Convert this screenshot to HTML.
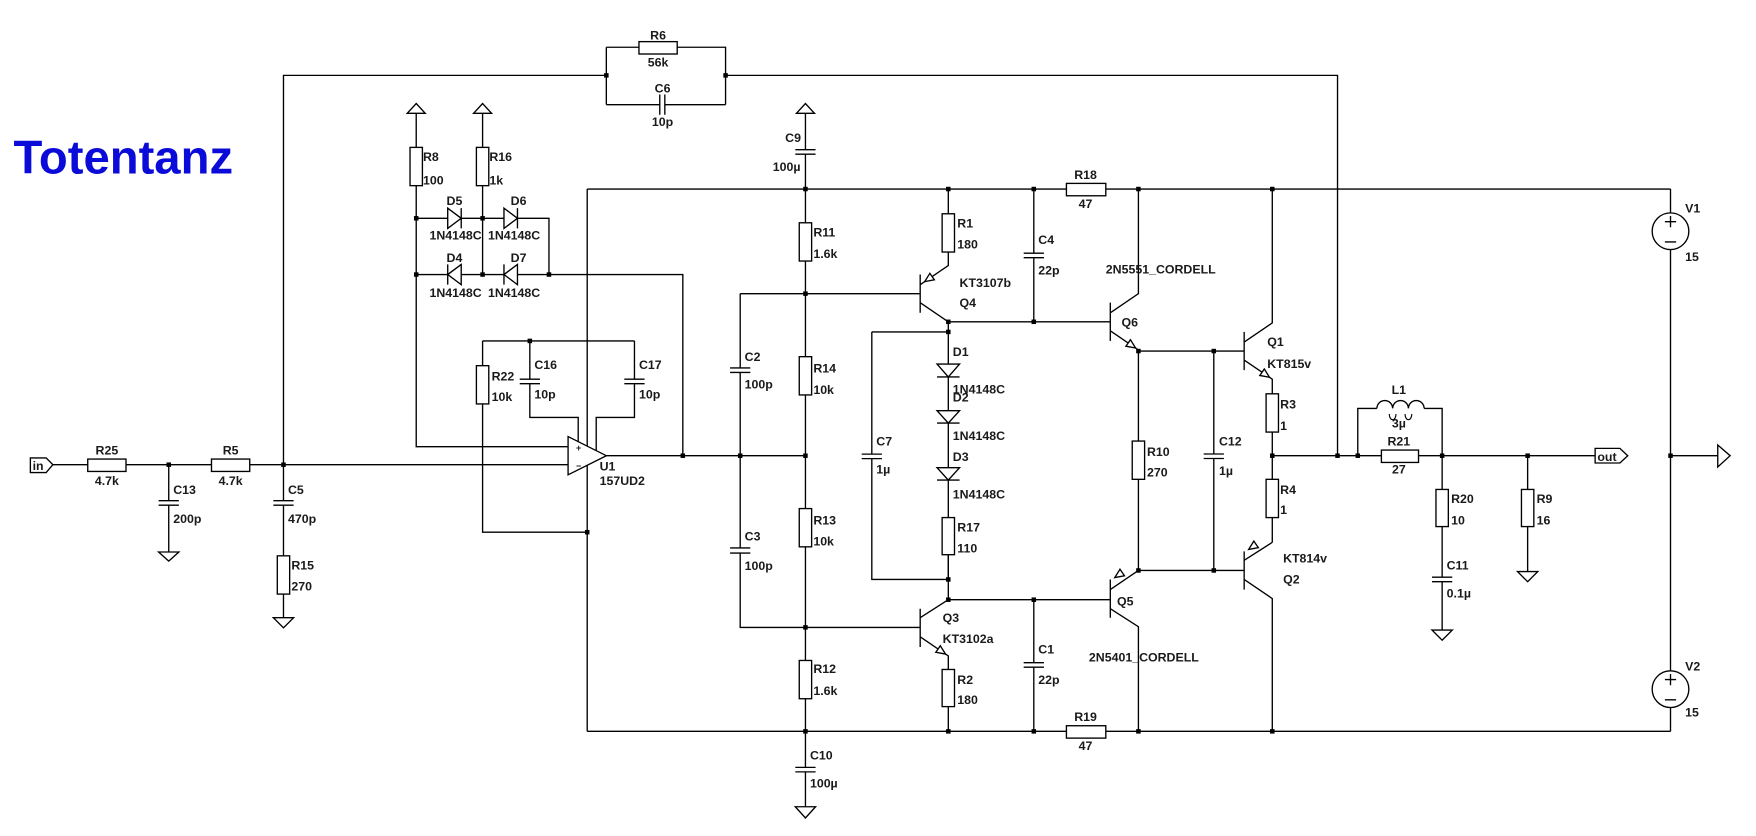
<!DOCTYPE html>
<html><head><meta charset="utf-8"><style>
html,body{margin:0;padding:0;background:#fff;}
svg{display:block}
text{font-family:"Liberation Sans",Arial,sans-serif;font-size:11px;font-weight:bold;fill:#1a1a1a}
.c{text-anchor:middle}
</style></head><body>
<svg width="1756" height="836" viewBox="0 0 1561 743" preserveAspectRatio="none" xmlns="http://www.w3.org/2000/svg">
<rect width="1561" height="743" fill="#fff"/>
<g stroke="#000" stroke-width="1.2" fill="none">
<path d="M252,413 V67 H539 M539,42 V93 M539,42 H568 M602,42 H645 V93 M539,93 H586.5 M591,93 H645 M645,67 H1189 V405"/>
<path d="M586.5,84 V102 M591,84 V102"/>
<path d="M47,413 H78 M112,413 H188 M222,413 H505"/>
<path d="M150,413 V445 M141,445 H159 M141,449 H159 M150,449 V490.6 M141,490.6 H159 L150,498.7 Z"/>
<path d="M252,413 V445 M243,445 H261 M243,449 H261 M252,449 V494 M252,528 V549 M243,549 H261 L252,558 Z"/>
<path d="M362,100.7 L370,92 L378,100.7 Z M370,100.7 V131 M370,165 V397 H505"/>
<path d="M421,100.7 L429,92 L437,100.7 Z M429,100.7 V131 M429,165 V244"/>
<path d="M370,194 H488 V244 M370,244 H607 V405"/>
<path d="M429,303 H564 M429,325 V303 M429,359 V473 H522"/>
<path d="M471,303 V337 M462,337 H480 M462,341 H480 M471,341 V371 H514 V393"/>
<path d="M564,303 V337 M555,337 H573 M555,341 H573 M564,341 V371 H530 V401"/>
<path d="M522,168 V650"/>
<path d="M522,168 H1485 M522,650 H1485"/>
<path d="M708,100.7 L716,92 L724,100.7 Z M716,100.7 V133 M707,133 H725 M707,137 H725 M716,137 V682 M707,682 H725 M707,686 H725 M716,686 V717 M707,717 H725 L716,727 Z"/>
<path d="M658,261 H818 M658,261 V327 M649,327 H667 M649,331 H667 M658,331 V487 M649,487 H667 M649,491.5 H667 M658,491.5 V557.6 H818 M607,405 H716"/>
<path d="M818,244 V278 M818,253 L843,236 V224 M843,190 V168 M818,269 L843,286 V515"/>
<path d="M843,286 H987 M775,295 H843 M775,295 V403.6 M766,403.6 H784 M766,407.6 H784 M775,407.6 V515 H843 M843,493 V533"/>
<path d="M818,541 V575 M818,549 L843,533 M818,566 L843,583 V595 M843,628 V650 M843,533 H987"/>
<path d="M919,168 V225 M910,225 H928 M910,229 H928 M919,229 V286 M919,533 V589 M910,589 H928 M910,593 H928 M919,593 V650"/>
<path d="M987,269 V303 M987,278 L1012,261 V168 M987,294 L1012,311 V392 M1012,426 V507 M987,515 V549 M987,524 L1012,507 M987,541 L1012,557 V650"/>
<path d="M1012,312 H1106 M1012,507 H1106 M1079,312 V403.5 M1070,403.5 H1088 M1070,407.5 H1088 M1079,407.5 V507"/>
<path d="M1106,295 V329 M1106,304 L1131,287 V168 M1106,320 L1131,337 V350 M1131,384 V426 M1131,460 V482 M1106,490 V524 M1106,498 L1131,482 M1106,515 L1131,532 V650"/>
<path d="M1131,405 H1228 M1261,405 H1418 M1207,405 V363 H1224 M1266,363 H1282 V435 M1282,468 V513 M1273,513 H1291 M1273,517 H1291 M1282,517 V560 M1273,560 H1291 L1282,569 Z"/>
<path d="M1224,363 a7,7 0 0 1 14,0 a7,7 0 0 1 14,0 a7,7 0 0 1 14,0"/>
<path d="M1235,368 a3,5 0 1 0 6,0 M1249,368 a3,5 0 1 0 6,0" stroke-width="1"/>
<path d="M1358,405 V435 M1358,468 V508 M1349,508 H1367 L1358,517 Z"/>
<path d="M1418,398.5 H1440 L1447,405 L1440,411.5 H1418 Z"/>
<path d="M1485,168 V189 M1485,222 V596 M1485,629 V650 M1485,405 H1527 M1527,395.5 L1538,405 L1527,415 Z"/>
<circle cx="1485" cy="205.5" r="16.3"/><circle cx="1485" cy="612.5" r="16.3"/>
<path d="M1480,197 H1490 M1485,192 V202 M1480,215 H1490 M1480,604 H1490 M1485,599 V609 M1480,622 H1490"/>
<path d="M27,407 H41 L47,413 L41,420 H27 Z"/>
</g>
<g stroke="#000" stroke-width="1.2" fill="#fff">
<rect x="78" y="408" width="34" height="11"/>
<rect x="188" y="408" width="34" height="11"/>
<rect x="568" y="37" width="34" height="11"/>
<rect x="948" y="163" width="35" height="11"/>
<rect x="948" y="645" width="35" height="11"/>
<rect x="1228" y="400" width="33" height="11"/>
<rect x="246.5" y="494" width="11" height="34"/>
<rect x="364.5" y="131" width="11" height="34"/>
<rect x="423.5" y="131" width="11" height="34"/>
<rect x="423.5" y="325" width="11" height="34"/>
<rect x="710.5" y="198" width="11" height="34"/>
<rect x="710.5" y="317" width="11" height="34"/>
<rect x="710.5" y="452" width="11" height="34"/>
<rect x="710.5" y="587" width="11" height="34"/>
<rect x="837.5" y="190" width="11" height="34"/>
<rect x="837.5" y="460" width="11" height="33"/>
<rect x="837.5" y="595" width="11" height="33"/>
<rect x="1006.5" y="392" width="11" height="34"/>
<rect x="1125.5" y="350" width="11" height="34"/>
<rect x="1125.5" y="426" width="11" height="34"/>
<rect x="1276.5" y="435" width="11" height="33"/>
<rect x="1352.5" y="435" width="11" height="33"/>
<path d="M398,185 L410,194 L398,203 Z M410,185 V203"/>
<path d="M448,185 L460,194 L448,203 Z M460,185 V203"/>
<path d="M410,235 L398,244 L410,253 Z M398,235 V253"/>
<path d="M460,235 L448,244 L460,253 Z M448,235 V253"/>
<path d="M833,323.6 H853 L843,335 Z M833,335 H853"/>
<path d="M833,365 H853 L843,376 Z M833,376 H853"/>
<path d="M833,415.7 H853 L843,426.7 Z M833,426.7 H853"/>
<path d="M505,388 L539,405 L505,422 Z"/>
<path d="M1009.5,309.3 L1000.9,307.7 L1004.9,301.9 Z"/>
<path d="M840.5,581.3 L831.9,579.7 L835.9,573.9 Z"/>
<path d="M1128.5,335.3 L1119.9,333.7 L1123.9,327.9 Z"/>
<path d="M822,250.3 L830.6,248.7 L826.6,242.9 Z"/>
<path d="M991,513.3 L999.6,511.7 L995.6,505.9 Z"/>
<path d="M1110,488.3 L1118.6,486.7 L1114.6,480.9 Z"/>
</g>
<path d="M539,405 H607" stroke="#000" stroke-width="1.2"/>
<g fill="#000">
<rect x="148" y="411" width="4" height="4"/><rect x="250" y="411" width="4" height="4"/>
<rect x="537" y="65" width="4" height="4"/><rect x="643" y="65" width="4" height="4"/>
<rect x="368" y="192" width="4" height="4"/><rect x="427" y="192" width="4" height="4"/>
<rect x="368" y="242" width="4" height="4"/><rect x="427" y="242" width="4" height="4"/><rect x="486" y="242" width="4" height="4"/>
<rect x="469" y="301" width="4" height="4"/><rect x="520" y="471" width="4" height="4"/>
<rect x="605" y="403" width="4" height="4"/><rect x="656" y="403" width="4" height="4"/><rect x="714" y="403" width="4" height="4"/>
<rect x="714" y="166" width="4" height="4"/><rect x="714" y="259" width="4" height="4"/><rect x="714" y="555.6" width="4" height="4"/><rect x="714" y="648" width="4" height="4"/>
<rect x="841" y="166" width="4" height="4"/><rect x="841" y="284" width="4" height="4"/><rect x="841" y="293" width="4" height="4"/>
<rect x="841" y="513" width="4" height="4"/><rect x="841" y="531" width="4" height="4"/><rect x="841" y="648" width="4" height="4"/>
<rect x="917" y="166" width="4" height="4"/><rect x="917" y="284" width="4" height="4"/><rect x="917" y="531" width="4" height="4"/><rect x="917" y="648" width="4" height="4"/>
<rect x="1010" y="166" width="4" height="4"/><rect x="1010" y="310" width="4" height="4"/><rect x="1010" y="505" width="4" height="4"/><rect x="1010" y="648" width="4" height="4"/>
<rect x="1077" y="310" width="4" height="4"/><rect x="1077" y="505" width="4" height="4"/>
<rect x="1129" y="166" width="4" height="4"/><rect x="1129" y="403" width="4" height="4"/><rect x="1129" y="648" width="4" height="4"/>
<rect x="1187" y="403" width="4" height="4"/><rect x="1205" y="403" width="4" height="4"/><rect x="1280" y="403" width="4" height="4"/><rect x="1356" y="403" width="4" height="4"/><rect x="1483" y="403" width="4" height="4"/>
</g>
<text x="12" y="154" style="font-size:42px;fill:#0b0bd9">Totentanz</text>
<text x="29" y="417.5" style="font-size:11px">in</text>
<text x="1420" y="409.5">out</text>
<text x="512" y="401" style="font-size:8px">+</text>
<text x="512" y="417" style="font-size:8px">−</text>
<g>
<text class="c" x="95" y="404">R25</text><text class="c" x="95" y="431">4.7k</text>
<text class="c" x="205" y="404">R5</text><text class="c" x="205" y="431">4.7k</text>
<text x="154" y="439">C13</text><text x="154" y="465">200p</text>
<text x="256" y="439">C5</text><text x="256" y="465">470p</text>
<text x="259" y="506">R15</text><text x="259" y="525">270</text>
<text class="c" x="585" y="35">R6</text><text class="c" x="585" y="59">56k</text>
<text class="c" x="589" y="82">C6</text><text class="c" x="589" y="112">10p</text>
<text x="376" y="143">R8</text><text x="376" y="164">100</text>
<text x="435" y="143">R16</text><text x="435" y="164">1k</text>
<text class="c" x="404" y="182">D5</text><text class="c" x="461" y="182">D6</text>
<text class="c" x="405" y="213">1N4148C</text><text class="c" x="457" y="213">1N4148C</text>
<text class="c" x="404" y="233">D4</text><text class="c" x="461" y="233">D7</text>
<text class="c" x="405" y="264">1N4148C</text><text class="c" x="457" y="264">1N4148C</text>
<text x="437" y="338">R22</text><text x="437" y="356.5">10k</text>
<text x="475" y="328">C16</text><text x="475" y="354">10p</text>
<text x="568" y="328">C17</text><text x="568" y="354">10p</text>
<text x="533" y="418">U1</text><text x="533" y="431">157UD2</text>
<text x="698" y="126">C9</text><text x="687" y="152">100µ</text>
<text x="723" y="210">R11</text><text x="723" y="229.5">1.6k</text>
<text x="723" y="331">R14</text><text x="723" y="350">10k</text>
<text x="723" y="466">R13</text><text x="723" y="485">10k</text>
<text x="723" y="598">R12</text><text x="723" y="617.6">1.6k</text>
<text x="720" y="675">C10</text><text x="720" y="700">100µ</text>
<text x="662" y="321">C2</text><text x="662" y="345.5">100p</text>
<text x="662" y="480.6">C3</text><text x="662" y="506.7">100p</text>
<text x="779" y="396">C7</text><text x="779" y="421">1µ</text>
<text x="851" y="202">R1</text><text x="851" y="221">180</text>
<text x="853" y="255">KT3107b</text><text x="853" y="273">Q4</text>
<text x="847" y="316.6">D1</text><text x="847" y="349.6">1N4148C</text>
<text x="847" y="357">D2</text><text x="847" y="391">1N4148C</text>
<text x="847" y="409.5">D3</text><text x="847" y="443">1N4148C</text>
<text x="851" y="472.6">R17</text><text x="851" y="491">110</text>
<text x="838" y="553">Q3</text><text x="838" y="571.5">KT3102a</text>
<text x="851" y="608">R2</text><text x="851" y="625.8">180</text>
<text x="923" y="217">C4</text><text x="923" y="244">22p</text>
<text x="923" y="581">C1</text><text x="923" y="608">22p</text>
<text class="c" x="965" y="159">R18</text><text class="c" x="965" y="185">47</text>
<text class="c" x="965" y="641">R19</text><text class="c" x="965" y="666.7">47</text>
<text x="983" y="243">2N5551_CORDELL</text><text x="997" y="290">Q6</text>
<text x="993" y="538">Q5</text><text x="968" y="588">2N5401_CORDELL</text>
<text x="1019.6" y="405.3">R10</text><text x="1019.6" y="423.7">270</text>
<text x="1083.6" y="396">C12</text><text x="1083.6" y="422">1µ</text>
<text x="1126.5" y="307.6">Q1</text><text x="1126.5" y="327">KT815v</text>
<text x="1138" y="363">R3</text><text x="1138" y="382">1</text>
<text x="1138" y="439">R4</text><text x="1138" y="457">1</text>
<text x="1140.6" y="500">KT814v</text><text x="1140.6" y="518.5">Q2</text>
<text class="c" x="1243.5" y="350">L1</text><text class="c" x="1243.5" y="380">3µ</text>
<text class="c" x="1243.5" y="396">R21</text><text class="c" x="1243.5" y="421">27</text>
<text x="1290" y="447">R20</text><text x="1290" y="466">10</text>
<text x="1286" y="506">C11</text><text x="1286" y="531">0.1µ</text>
<text x="1366" y="447">R9</text><text x="1366" y="466">16</text>
<text x="1498" y="189">V1</text><text x="1498" y="232">15</text>
<text x="1498" y="596">V2</text><text x="1498" y="637">15</text>
</g>
</svg>
</body></html>
